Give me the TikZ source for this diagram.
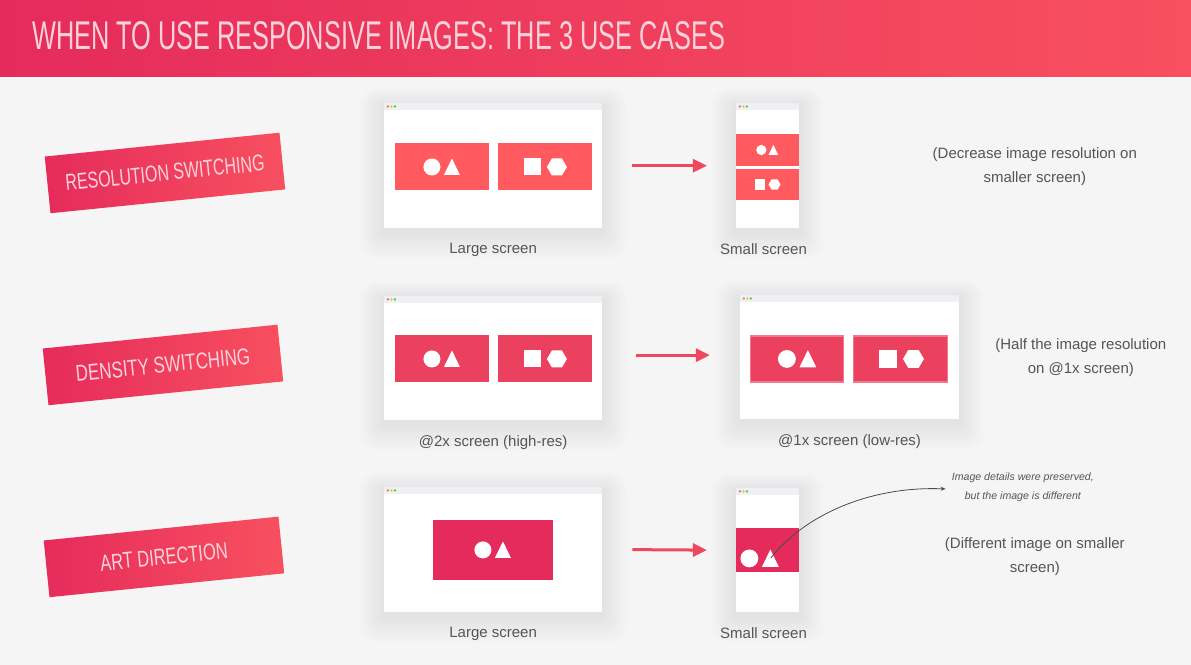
\documentclass[tikz,border=0pt]{standalone}
\usepackage{fontspec}
\setmainfont{Liberation Sans}
\usepackage{tikz}
\usetikzlibrary{arrows.meta, positioning, calc, backgrounds}
\definecolor{pageBg}{HTML}{F5F5F5}
\definecolor{hdrLeft}{HTML}{E52B5B}
\definecolor{hdrRight}{HTML}{F8505F}
\definecolor{titlePink}{HTML}{FAD2DA}
\definecolor{imgCoral}{HTML}{FF5A5F}
\definecolor{imgRose}{HTML}{EB405E}
\definecolor{imgCrimson}{HTML}{E52B5C}
\definecolor{arrRed}{HTML}{F0465E}
\definecolor{capInk}{HTML}{555555}
\definecolor{barGray}{HTML}{EEF0F4}
\definecolor{dotRed}{HTML}{F26B6B}
\definecolor{dotAmber}{HTML}{F4C046}
\definecolor{dotGreen}{HTML}{4FC54F}

\begin{document}
\begin{tikzpicture}[x=1pt,y=-1pt,font=\fontsize{15}{24}\selectfont,
  window/.style={fill=white,inner sep=0pt,anchor=north west},
  ribbon/.style={rotate=5.8,minimum width=236pt,minimum height=57pt,
                 left color=hdrLeft,right color=hdrRight,inner sep=0pt,
                 text=titlePink},
  picbox/.style={inner sep=0pt,minimum width=94pt,minimum height=47pt},
  caption/.style={text=capInk,inner sep=0pt,below=15pt of #1},
  remark/.style={text=capInk,align=center,inner sep=0pt},
  arr/.style={-{Triangle[length=14pt,width=13pt]},line width=3pt,draw=arrRed},
  note/.style={-{Stealth[length=5pt,width=4pt]},line width=0.8pt,draw=black!70}]

% ===== header band =====
\node[anchor=north west,inner sep=0pt,minimum width=1191pt,minimum height=76pt,
      left color=hdrLeft,right color=hdrRight] (header) at (0,0) {};
\node[anchor=west,inner sep=0pt,text=titlePink] (title) at (32,36)
   {\resizebox{693pt}{28pt}{WHEN TO USE RESPONSIVE IMAGES: THE 3 USE CASES}};

% ===== ribbons on the left =====
\node[ribbon] (tagRes) at (165,173) {\resizebox{200pt}{16pt}{RESOLUTION SWITCHING}};
\node[ribbon] (tagDen) at (163,365) {\resizebox{175pt}{16pt}{DENSITY SWITCHING}};
\node[ribbon] (tagArt) at (164,557) {\resizebox{128pt}{16pt}{ART DIRECTION}};

% ===== browser windows =====
\node[window,minimum width=218pt,minimum height=125pt] (lgRes) at (384,103) {};
\node[window,minimum width=63pt,minimum height=125pt]  (smRes) at (736,103) {};
\node[window,minimum width=218pt,minimum height=124pt] (hiDen) at (384,296) {};
\node[window,minimum width=219pt,minimum height=124pt] (loDen) at (740,295) {};
\node[window,minimum width=218pt,minimum height=125pt] (lgArt) at (384,487) {};
\node[window,minimum width=63pt,minimum height=124pt]  (smArt) at (736,488) {};

% page colour and soft shadows behind everything
\begin{scope}[on background layer]
  \fill[pageBg] (0,0) rectangle (1191,665);
  \foreach \w in {lgRes,smRes,hiDen,loDen,lgArt,smArt}
    \foreach \r in {1,2,...,18}
      \fill[black,opacity=0.0035,rounded corners=\r pt]
        ([shift={(-1.4*\r,-1.0*\r+3)}]\w.north west) rectangle ([shift={(1.4*\r,1.5*\r+4)}]\w.south east);
\end{scope}
\useasboundingbox (0,0) rectangle (1191,665);

% title bars with the three dots
\foreach \w in {lgRes,smRes,hiDen,loDen,lgArt,smArt} {
  \fill[barGray] (\w.north west) rectangle ([yshift=-7pt]\w.north east);
  \fill[dotRed]   ($(\w.north west)+(4,3.5)$)  circle (1.3);
  \fill[dotAmber] ($(\w.north west)+(7.5,3.5)$) circle (1.3);
  \fill[dotGreen] ($(\w.north west)+(11,3.5)$) circle (1.3);
}

% ===== images inside the windows =====
\node[picbox,fill=imgCoral] (lgResA) at (442,167) {};
\node[picbox,fill=imgCoral] (lgResB) at (545,167) {};
\node[picbox,fill=imgCoral,minimum width=63pt,minimum height=32pt] (smResA) at (767.5,150) {};
\node[picbox,fill=imgCoral,minimum width=63pt,minimum height=31pt] (smResB) at (767.5,184.5) {};
\node[picbox,fill=imgRose] (hiDenA) at (442,359) {};
\node[picbox,fill=imgRose] (hiDenB) at (545,359) {};
\node[picbox,fill=imgRose,draw=imgRose!70,line width=1.2pt,minimum width=93pt,minimum height=46pt] (loDenA) at (797.5,359) {};
\node[picbox,fill=imgRose,draw=imgRose!70,line width=1.2pt,minimum width=94pt,minimum height=46pt] (loDenB) at (901,359) {};
\node[picbox,fill=imgCrimson,minimum width=120pt,minimum height=60pt] (lgArtA) at (493,550) {};
\node[picbox,fill=imgCrimson,minimum width=63pt,minimum height=44pt] (smArtA) at (767.5,550) {};

% circle + triangle
\foreach \cx/\cy/\s in {442/167/1, 767.5/150/0.6, 442/359/1, 797.5/359/1.05,
                        493/550/1, 760/558.5/1.05} {
  \fill[white] (\cx-10*\s,\cy) circle (8.5*\s);
  \fill[white] (\cx+2*\s,\cy+8*\s) -- (\cx+18*\s,\cy+8*\s) -- (\cx+10*\s,\cy-8.5*\s) -- cycle;
}
% square + hexagon
\foreach \cx/\cy/\s in {545/167/1, 767.5/184.5/0.6, 545/359/1, 901/359/1.05} {
  \fill[white] (\cx-21*\s,\cy-8.5*\s) rectangle (\cx-4*\s,\cy+8.5*\s);
  \fill[white] (\cx+2*\s,\cy) -- (\cx+7*\s,\cy-8.5*\s) -- (\cx+17*\s,\cy-8.5*\s)
     -- (\cx+22*\s,\cy) -- (\cx+17*\s,\cy+8.5*\s) -- (\cx+7*\s,\cy+8.5*\s) -- cycle;
}

% ===== captions =====
\node[caption=lgRes] (capLgRes) {Large screen};
\node[caption=smRes,xshift=-4pt] (capSmRes) {Small screen};
\node[caption=hiDen] (capHiDen) {@2x screen (high-res)};
\node[caption=loDen] (capLoDen) {@1x screen (low-res)};
\node[caption=lgArt] (capLgArt) {Large screen};
\node[caption=smArt,xshift=-4pt] (capSmArt) {Small screen};

% ===== arrows between windows =====
\draw[arr] ([xshift=30pt]lgRes.east) -- ([xshift=-29pt]smRes.west);
\draw[arr] ([xshift=34pt,yshift=3pt]hiDen.east) -- ([xshift=-30pt,yshift=2pt]loDen.west);
\draw[arr] ([xshift=30pt]lgArt.east) -- ([xshift=-29pt]smArt.west);

% ===== remarks =====
\node[remark] (remRes) at (1035,167) {(Decrease image resolution on\\smaller screen)};
\node[remark] (remDen) at (1081,358) {(Half the image resolution\\on @1x screen)};
\node[remark] (remArt) at (1035,557) {(Different image on smaller\\screen)};
\node[remark,font=\fontsize{10.6}{19}\selectfont\itshape] (remNote) at (1023,487)
   {Image details were preserved,\\but the image is different};

% curved pointer from the cropped triangle
\coordinate (artTri) at (771,558);
\draw[note] (artTri) .. controls (805,515) and (870,486) .. ([xshift=-6pt,yshift=-2pt]remNote.west);
\end{tikzpicture}
\end{document}
